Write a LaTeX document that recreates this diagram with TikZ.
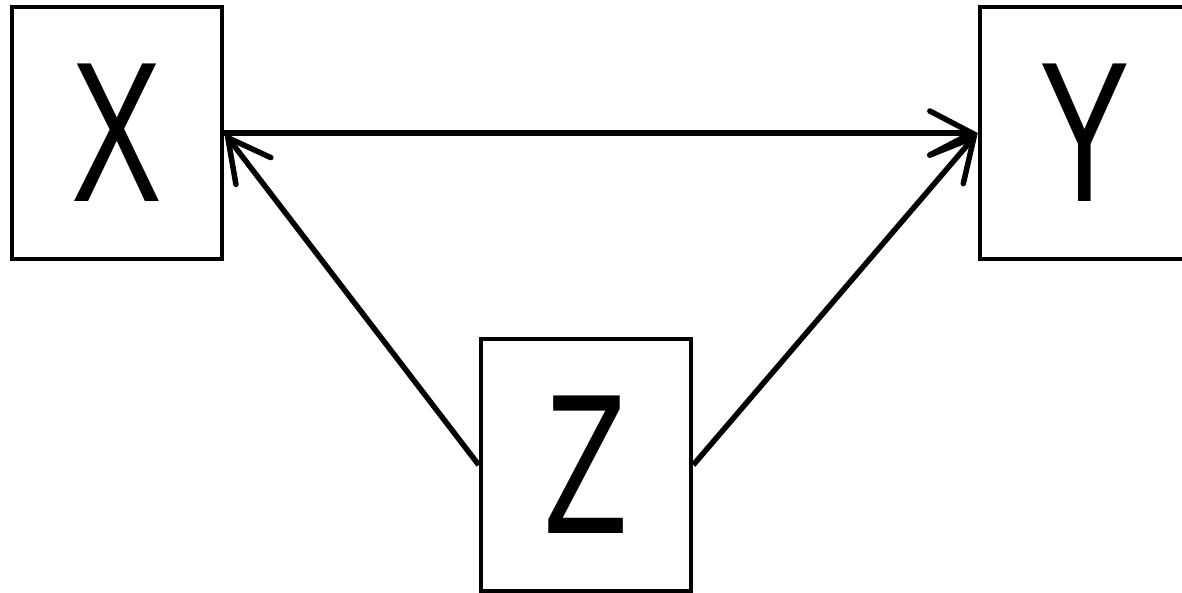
\documentclass[tikz,border=0pt]{standalone}
\usepackage{fontspec}
\setmainfont{Liberation Sans}[FakeStretch=0.68]
\usetikzlibrary{positioning,arrows.meta}

\begin{document}
\begin{tikzpicture}[
    x=1pt,y=1pt,
    every node/.style={font=\fontsize{200}{200}\selectfont},
    var/.style={draw,line width=4.5pt,minimum width=210pt,minimum height=252pt,inner sep=0pt},
    arrow/.style={-{Straight Barb[length=42pt,width=44pt,line cap=round]},line width=5.5pt},
]
\useasboundingbox (0,0) rectangle (1182,593);

% Variables
\node[var] (X) at (117,460) {X};
\node[var] (Y) at (1085,460) {Y};
\node[var] (Z) at (586,128) {Z};

% Causal arrows
\draw[arrow] (X.east) -- (Y.west);
\draw[arrow] (Z.west) -- (X.east);
\draw[arrow] (Z.east) -- (Y.west);
\end{tikzpicture}
\end{document}
